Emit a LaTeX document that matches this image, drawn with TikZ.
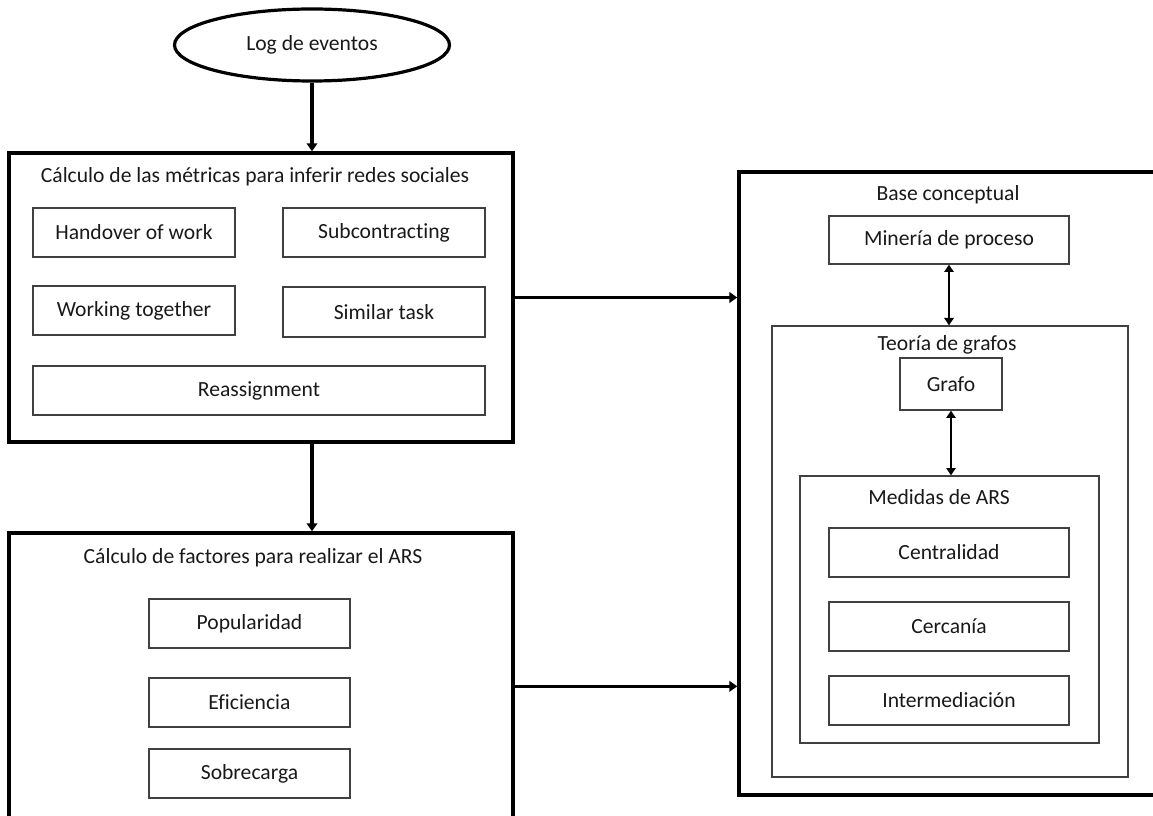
\documentclass[tikz,border=0pt]{standalone}
\usepackage{fontspec}
\setmainfont{Carlito}[Ligatures=NoCommon]
\usetikzlibrary{arrows.meta,shapes.geometric}

\tikzset{
  texto/.style={font=\fontsize{16.2}{19}\selectfont, text=black!90},
  marco/.style 2 args={draw=black, line width=2.6pt, minimum width=#1*0.75pt, minimum height=#2*0.75pt, inner sep=0pt},
  caja/.style 2 args={draw=black!75, line width=1pt, texto, minimum width=#1*0.75pt, minimum height=#2*0.75pt, inner sep=0pt},
  flecha/.style={line width=2.4pt, -{Triangle[length=6pt,width=8pt]}},
  doble/.style={line width=2pt, {Triangle[length=5.5pt,width=7pt]}-{Triangle[length=5.5pt,width=7pt]}}
}

\begin{document}
\begin{tikzpicture}[x=0.75pt, y=-0.75pt]
    \useasboundingbox (0,0) rectangle (1153,816);
    \clip (0,0) rectangle (1153,816);

    % Entrada
    \node[draw, ellipse, line width=2.4pt, minimum width=275*0.75pt, minimum height=72*0.75pt, texto] (log) at (312,45) {Log de eventos};

    % Metricas
    \node[marco={504}{289}] (metricas) at (261,297.5) {};
    \node[texto] (titmet) at (255,177) {Cálculo de las métricas para inferir redes sociales};
    \node[caja={202}{49}] (handover) at (134,232.5) {Handover of work};
    \node[caja={202}{49}] (subcontr) at (384,232.5) {Subcontracting};
    \node[caja={202}{49}] (working) at (134,310.5) {Working together};
    \node[caja={202}{50}] (similar) at (384,312) {Similar task};
    \node[caja={452}{49}] (reassign) at (259,390.5) {Reassignment};

    % Factores
    \node[marco={504}{320}] (factores) at (261,693) {};
    \node[texto] (titfac) at (253,558) {Cálculo de factores para realizar el ARS};
    \node[caja={201}{49}] (popular) at (249.5,623.5) {Popularidad};
    \node[caja={201}{49}] (eficiencia) at (249.5,702.5) {Eficiencia};
    \node[caja={201}{49}] (sobrecarga) at (249.5,773.5) {Sobrecarga};

    % Base conceptual
    \node[marco={441}{623}] (base) at (959.5,483.5) {};
    \node[texto] (titbase) at (948,195) {Base conceptual};
    \node[caja={240}{48}] (mineria) at (949,240) {Minería de proceso};
    \node[draw=black!75, line width=1pt, minimum width=356*0.75pt, minimum height=451*0.75pt] (teoria) at (950,551.5) {};
    \node[texto] (titteo) at (947,345) {Teoría de grafos};
    \node[caja={102}{52}] (grafo) at (951,384) {Grafo};
    \node[draw=black!75, line width=1pt, minimum width=299*0.75pt, minimum height=267*0.75pt] (medidas) at (949.5,609.5) {};
    \node[texto] (titmed) at (939,497) {Medidas de ARS};
    \node[caja={240}{49}] (central) at (949,552.5) {Centralidad};
    \node[caja={240}{49}] (cercania) at (949,626.5) {Cercanía};
    \node[caja={240}{49}] (interm) at (949,700.5) {Intermediación};

    % Flechas
    \draw[flecha] (log.south) -- (log.south |- metricas.north);
    \draw[flecha] (metricas.south -| log.south) -- (log.south |- factores.north);
    \draw[flecha] (metricas.east) -- (metricas.east -| base.west);
    \draw[flecha] ([yshift=5pt]factores.east) -- ([yshift=5pt]factores.east -| base.west);
    \draw[doble] (mineria.south) -- (mineria.south |- teoria.north);
    \draw[doble] (grafo.south) -- (grafo.south |- medidas.north);
\end{tikzpicture}
\end{document}
